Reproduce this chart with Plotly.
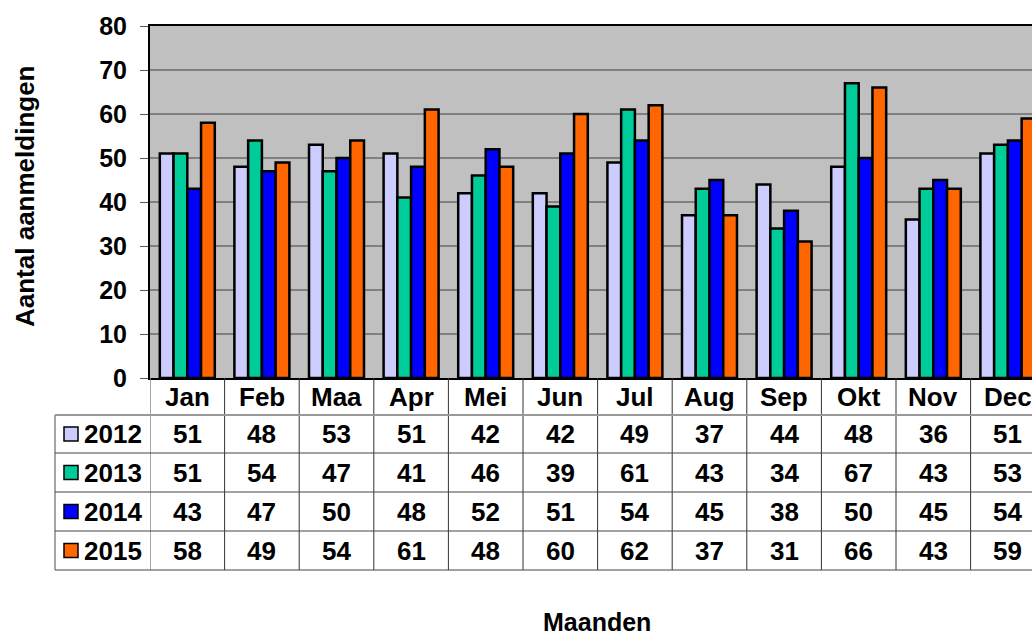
"""Monthly registrations per year, Excel-style column chart with data table."""

import plotly.graph_objects as go

months = ["Jan", "Feb", "Maa", "Apr", "Mei", "Jun", "Jul", "Aug", "Sep", "Okt", "Nov", "Dec"]
years = ["2012", "2013", "2014", "2015"]
values_2012 = [51, 48, 53, 51, 42, 42, 49, 37, 44, 48, 36, 51]
values_2013 = [51, 54, 47, 41, 46, 39, 61, 43, 34, 67, 43, 53]
values_2014 = [43, 47, 50, 48, 52, 51, 54, 45, 38, 50, 45, 54]
values_2015 = [58, 49, 54, 61, 48, 60, 62, 37, 31, 66, 43, 59]
series = [values_2012, values_2013, values_2014, values_2015]
colors = ["#CCCCFF", "#00CC99", "#0000FF", "#FF6600"]
y_ticks = [0, 10, 20, 30, 40, 50, 60, 70, 80]

FONT = "Liberation Sans, Arial, sans-serif"

# page geometry (pixels)
W, H = 1032, 635
LEFT, TOP, ZERO = 150, 26, 378
PLOT_W = W - LEFT
PLOT_H = ZERO - TOP
CAT_W = 74.6
ROW_LINES = [415, 453, 492, 531, 570]
TABLE_LEFT = 55


def py(pix):
    """Pixel row -> paper y."""
    return (ZERO - pix) / PLOT_H


def px(pix):
    """Pixel column -> paper x."""
    return (pix - LEFT) / PLOT_W


fig = go.Figure()

for year, vals, col in zip(years, series, colors):
    fig.add_trace(
        go.Bar(
            x=list(range(len(months))),
            y=vals,
            name=year,
            marker={"color": col, "line": {"color": "black", "width": 2.5}},
            hovertemplate=year + " %{customdata}: %{y}<extra></extra>",
            customdata=months,
        )
    )

shapes = []
annotations = []

# vertical table lines at category boundaries
for i in range(len(months)):
    shapes.append(
        dict(type="line", xref="x", yref="paper", x0=i - 0.5, x1=i - 0.5,
             y0=0, y1=py(ROW_LINES[-1]),
             line={"color": "#888888" if i == 0 else "#333333", "width": 1.5 if i == 0 else 1})
    )
# left edge of row-label column
shapes.append(
    dict(type="line", xref="paper", yref="paper", x0=px(TABLE_LEFT), x1=px(TABLE_LEFT),
         y0=py(ROW_LINES[0]), y1=py(ROW_LINES[-1]), line={"color": "#888888", "width": 1.5})
)
# horizontal table lines
for k, yl in enumerate(ROW_LINES):
    shapes.append(
        dict(type="line", xref="paper", yref="paper", x0=px(TABLE_LEFT), x1=1.05,
             y0=py(yl), y1=py(yl),
             line={"color": "#999999" if k == 0 else "#444444", "width": 2 if k == 0 else 1})
    )

table_font = {"family": FONT, "size": 26, "color": "black", "weight": "bold"}

# month header row
for i, m in enumerate(months):
    annotations.append(
        dict(text=m, xref="x", yref="paper", x=i, y=py((ZERO + ROW_LINES[0]) / 2),
             showarrow=False, xanchor="center", yanchor="middle", font=table_font)
    )

# value rows with legend keys
for r, (year, vals, col) in enumerate(zip(years, series, colors)):
    yc = (ROW_LINES[r] + ROW_LINES[r + 1]) / 2
    shapes.append(
        dict(type="rect", xref="paper", yref="paper", x0=px(64), x1=px(78),
             y0=py(yc - 7), y1=py(yc + 7), fillcolor=col, line={"color": "black", "width": 1.5})
    )
    annotations.append(
        dict(text=year, xref="paper", yref="paper", x=px(82), y=py(yc),
             showarrow=False, xanchor="left", yanchor="middle", font=table_font)
    )
    for i, v in enumerate(vals):
        annotations.append(
            dict(text=str(v), xref="x", yref="paper", x=i, y=py(yc),
                 showarrow=False, xanchor="center", yanchor="middle", font=table_font)
        )

# axis titles
annotations.append(
    dict(text="Aantal aanmeldingen", xref="paper", yref="paper", x=px(25), y=py(196),
         textangle=-90, showarrow=False, xanchor="center", yanchor="middle",
         font={"family": FONT, "size": 26, "color": "black", "weight": "bold"})
)
annotations.append(
    dict(text="Maanden", xref="paper", yref="paper", x=px(597), y=py(622),
         showarrow=False, xanchor="center", yanchor="middle",
         font={"family": FONT, "size": 25, "color": "black", "weight": "bold"})
)

fig.update_layout(
    width=W,
    height=H,
    margin={"l": LEFT, "r": 0, "t": TOP, "b": H - ZERO, "pad": 0},
    paper_bgcolor="white",
    plot_bgcolor="#C0C0C0",
    barmode="group",
    bargap=0.263,
    bargroupgap=0,
    showlegend=False,
    shapes=shapes,
    annotations=annotations,
    xaxis={
        "range": [-0.5, -0.5 + PLOT_W / CAT_W],
        "showticklabels": False,
        "showgrid": False,
        "zeroline": False,
        "showline": True,
        "linecolor": "black",
        "linewidth": 2,
        "mirror": True,
        "ticks": "",
    },
    yaxis={
        "range": [0, 80],
        "tickvals": y_ticks,
        "ticks": "outside",
        "ticklen": 8,
        "tickcolor": "#555555",
        "tickwidth": 1,
        "ticklabelstandoff": 8,
        "tickfont": {"family": FONT, "size": 25, "color": "black", "weight": "bold"},
        "showgrid": True,
        "gridcolor": "#808080",
        "gridwidth": 1.5,
        "zeroline": False,
        "showline": True,
        "linecolor": "black",
        "linewidth": 2,
    },
)

# drop the default page margin so the figure sits at the window's top-left corner
fig.write_html(
    "out.html",
    config={"displayModeBar": False},
    post_script="document.body.style.margin='0';document.body.style.overflow='hidden';",
)
